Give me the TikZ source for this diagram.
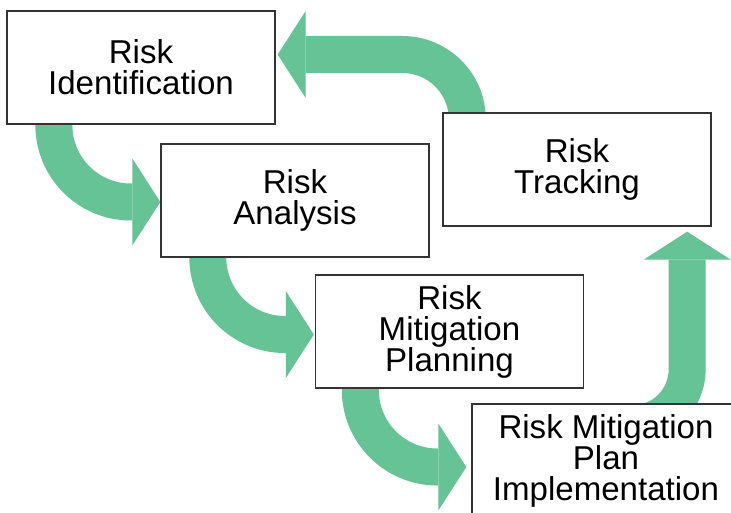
\documentclass[tikz,border=0pt]{standalone}
\usepackage{fontspec}
\setmainfont{Liberation Sans}
\usetikzlibrary{arrows.meta,backgrounds}
\definecolor{flowgreen}{RGB}{102,195,150}

\begin{document}
\begin{tikzpicture}[x=0.75pt,y=-0.75pt,
    stage/.style={draw=black!80,line width=1pt,fill=white,inner sep=0pt,
      minimum width=201pt,minimum height=84.75pt,align=center,
      font=\fontsize{24.8}{23.25}\selectfont},
    flow/.style={draw=flowgreen,line width=27.75pt,
      -{Triangle[length=21pt,width=65.25pt,line width=0pt]}}]
  \useasboundingbox (0,0) rectangle (731,513);
  \node[stage] (id) at (141,67.5) {Risk\\Identification};
  \node[stage] (ana) at (295,200.5) {Risk\\Analysis};
  \node[stage] (mit) at (449.5,331.5) {Risk\\Mitigation\\Planning};
  \node[stage] (imp) at (606,460.5) {Risk Mitigation\\Plan\\Implementation};
  \node[stage] (trk) at (577,169.5) {Risk\\Tracking};
  \begin{scope}[on background layer]
    \draw[flow,rounded corners=57.75pt] ([shift={(47.5,-3)}]id.south west) |- ([shift={(0,1.5)}]ana.west);
    \draw[flow,rounded corners=57.75pt] ([shift={(47.5,-3)}]ana.south west) |- ([shift={(-1,3)}]mit.west);
    \draw[flow,rounded corners=57.75pt] ([shift={(45.5,-3)}]mit.south west) |- ([shift={(-5,6.5)}]imp.west);
    \draw[flow,rounded corners=40.9pt] ([shift={(128,20.5)}]imp.north west) -| ([shift={(-24.5,5)}]trk.south east);
    \draw[flow,rounded corners=48.75pt] ([shift={(25,8)}]trk.north west) |- ([shift={(2,-13)}]id.east);
  \end{scope}
\end{tikzpicture}
\end{document}
